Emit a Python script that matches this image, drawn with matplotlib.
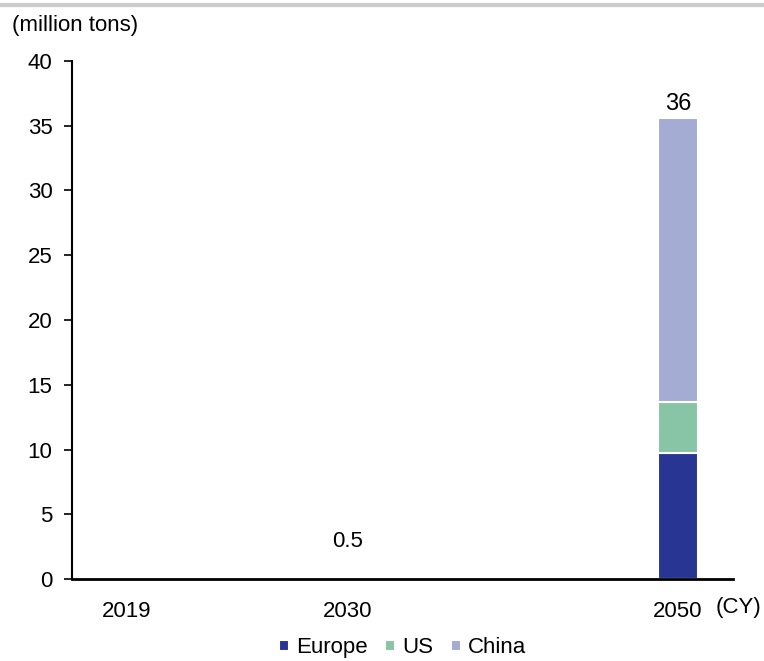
import numpy as np
import matplotlib.pyplot as plt
from matplotlib.lines import Line2D

plt.rcParams['font.family'] = ['Liberation Sans', 'DejaVu Sans']

# category slots along the x axis, only some of them carry a label
slots = ['2019', '', '2030', '', '', '2050']
europe = [0, 0, 0, 0, 0, 9.7]
us = [0, 0, 0, 0, 0, 4.0]
china = [0, 0, 0, 0, 0, 21.9]
notes = {2: 0.5}   # slot index -> value written above the slot

colors = {'Europe': '#283593', 'US': '#88c4a6', 'China': '#a5acd3'}
fs = 16

fig = plt.figure(figsize=(7.64, 6.61), dpi=100)
ax = fig.add_axes([72 / 764, 1 - 579 / 661, 661 / 764, 518 / 661])

x = np.arange(len(slots))
bottom = np.zeros(len(slots))
for name, vals in [('Europe', europe), ('US', us), ('China', china)]:
    vals = np.array(vals, dtype=float)
    ax.bar(x, vals, width=0.37, bottom=bottom, color=colors[name],
           edgecolor='white', linewidth=1.5, label=name)
    bottom += vals

for i, tot in enumerate(bottom):
    if tot > 0:
        ax.text(x[i], tot + 0.2, '{0:.0f}'.format(tot), ha='center',
                va='bottom', fontsize=fs + 1)
for i, val in notes.items():
    ax.text(x[i], 2.9, '{0:g}'.format(val), ha='center', va='center',
            fontsize=fs)

ax.set_xlim(-0.5, len(slots) - 0.5)
ax.set_ylim(0, 40)
ax.set_yticks(np.arange(0, 41, 5))
ax.set_xticks(x)
ax.set_xticklabels(slots)
ax.tick_params(axis='x', length=0, pad=16, labelsize=fs)
ax.tick_params(axis='y', length=6, width=1.2, pad=8, labelsize=fs,
               direction='out')
for side in ['top', 'right']:
    ax.spines[side].set_visible(False)
ax.spines['left'].set_linewidth(1.5)
ax.spines['bottom'].set_linewidth(2)

fig.text(12 / 764, 1 - 25 / 661, '(million tons)', fontsize=fs,
         va='center', ha='left')
fig.text(716 / 764, 1 - 607 / 661, '(CY)', fontsize=fs, va='center',
         ha='left')

# thin grey rule along the top edge
fig.add_artist(Line2D([0, 1], [1 - 5 / 661, 1 - 5 / 661], color='#cccccc',
                      linewidth=3, transform=fig.transFigure))

ax.legend(loc='center', bbox_to_anchor=(0.5, -0.133), ncol=3, frameon=False,
          fontsize=fs, handlelength=0.45, handleheight=0.45,
          handletextpad=0.3, columnspacing=0.8)

fig.savefig('out.png', dpi=100)
